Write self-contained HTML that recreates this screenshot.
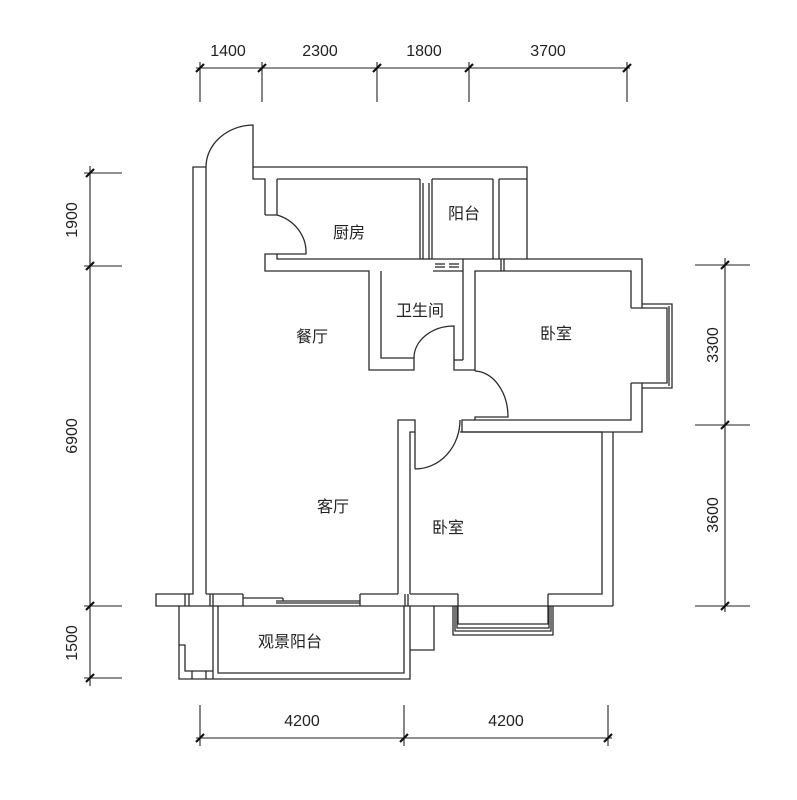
<!DOCTYPE html>
<html><head><meta charset="utf-8"><style>
html,body{margin:0;padding:0;background:#fff;}
svg{display:block;}
.w{fill:none;stroke:#2a2a2a;stroke-width:1.3;}
.d{fill:none;stroke:#222;stroke-width:1.1;}
.t{stroke:#111;stroke-width:2.2;}
.lab{font-family:"Liberation Sans","Noto Sans CJK SC",sans-serif;font-size:16px;fill:#222;text-anchor:middle;}
.num{font-family:"Liberation Sans Narrow","Liberation Sans",sans-serif;font-size:16px;fill:#222;text-anchor:middle;}
</style></head><body>
<svg width="797" height="800" viewBox="0 0 797 800" xmlns="http://www.w3.org/2000/svg">
<!-- top dims -->
<g class="d">
<line x1="196" y1="68" x2="630" y2="68"/>
<line x1="200" y1="62" x2="200" y2="102"/><line x1="262" y1="62" x2="262" y2="102"/>
<line x1="377" y1="62" x2="377" y2="102"/><line x1="469" y1="62" x2="469" y2="102"/>
<line x1="627" y1="62" x2="627" y2="102"/>
<!-- left -->
<line x1="90" y1="166" x2="90" y2="686"/>
<line x1="84" y1="173" x2="122" y2="173"/><line x1="84" y1="266" x2="122" y2="266"/>
<line x1="84" y1="606" x2="122" y2="606"/><line x1="84" y1="678" x2="122" y2="678"/>
<!-- right -->
<line x1="725" y1="258" x2="725" y2="612"/>
<line x1="695" y1="265" x2="750" y2="265"/><line x1="695" y1="425" x2="750" y2="425"/>
<line x1="695" y1="606" x2="750" y2="606"/>
<!-- bottom -->
<line x1="196" y1="738" x2="612" y2="738"/>
<line x1="200" y1="705" x2="200" y2="746"/><line x1="404" y1="705" x2="404" y2="746"/>
<line x1="608" y1="705" x2="608" y2="746"/>
</g>
<g class="t">
<line x1="196" y1="72" x2="204" y2="64"/><line x1="258" y1="72" x2="266" y2="64"/>
<line x1="373" y1="72" x2="381" y2="64"/><line x1="465" y1="72" x2="473" y2="64"/>
<line x1="623" y1="72" x2="631" y2="64"/>
<line x1="86" y1="177" x2="94" y2="169"/><line x1="86" y1="270" x2="94" y2="262"/>
<line x1="86" y1="610" x2="94" y2="602"/><line x1="86" y1="682" x2="94" y2="674"/>
<line x1="721" y1="269" x2="729" y2="261"/><line x1="721" y1="429" x2="729" y2="421"/>
<line x1="721" y1="610" x2="729" y2="602"/>
<line x1="196" y1="742" x2="204" y2="734"/><line x1="400" y1="742" x2="408" y2="734"/>
<line x1="604" y1="742" x2="612" y2="734"/>
</g>
<text class="num" x="228" y="56">1400</text>
<text class="num" x="320" y="56">2300</text>
<text class="num" x="424" y="56">1800</text>
<text class="num" x="548" y="56">3700</text>
<text class="num" x="302" y="726">4200</text>
<text class="num" x="506" y="726">4200</text>
<text class="num" transform="translate(77,220) rotate(-90)">1900</text>
<text class="num" transform="translate(77,436) rotate(-90)">6900</text>
<text class="num" transform="translate(77,643) rotate(-90)">1500</text>
<text class="num" transform="translate(718,345) rotate(-90)">3300</text>
<text class="num" transform="translate(718,515) rotate(-90)">3600</text>

<g class="w">
<!-- left outer wall -->
<polyline points="206,167 193,167 193,594 156,594 156,606 613,606"/>
<line x1="206" y1="167" x2="206" y2="594"/>
<polyline points="206,594 243,594"/>
<!-- entrance door -->
<path d="M206,167 A48,42 0 0 1 253,125 L253,179 L265,179 L265,215"/>
<!-- top wall -->
<polyline points="253,167 527,167 527,259"/>
<polyline points="277,179 420,179"/><polyline points="432,179 493,179"/>
<line x1="277" y1="179" x2="277" y2="215"/>
<!-- kitchen door -->
<path d="M265,215 L277,215 A41,39 0 0 1 306,254 L265,254 L265,271 L369,271 L369,370 L414,370 L414,358 L381,358 L381,271"/>
<polyline points="277,254 277,259 420,259"/>
<!-- kitchen / balcony divider -->
<line x1="420" y1="179" x2="420" y2="259"/><line x1="423" y1="183" x2="423" y2="259"/>
<line x1="429" y1="183" x2="429" y2="259"/><line x1="432" y1="179" x2="432" y2="259"/>
<line x1="493" y1="179" x2="493" y2="259"/><line x1="499" y1="179" x2="499" y2="259"/>
<line x1="499" y1="179" x2="527" y2="179"/>
<!-- wall between balcony & bath/bed1 -->
<polyline points="432,259 642,259 642,304"/>
<line x1="420" y1="259" x2="432" y2="259"/>
<line x1="435" y1="264" x2="445" y2="264"/><line x1="449" y1="264" x2="459" y2="264"/>
<line x1="435" y1="267" x2="445" y2="267"/><line x1="449" y1="267" x2="459" y2="267"/>
<line x1="433" y1="271" x2="463" y2="271"/>
<line x1="463" y1="259" x2="463" y2="360"/>
<line x1="501" y1="259" x2="501" y2="271"/><line x1="504" y1="259" x2="504" y2="271"/>
<polyline points="475,371 475,271 631,271 631,308"/>
<!-- bathroom door -->
<path d="M414,358 A40,32 0 0 1 454,326 L454,370 L475,370"/>
<line x1="454" y1="360" x2="463" y2="360"/>
<!-- bedroom1 door -->
<path d="M475,371 A34,46 0 0 1 508,417 L475,417 L475,420 L631,420 L631,383"/>
<polyline points="462,432 642,432 642,388"/>
<polyline points="462,432 462,420 475,420"/>
<!-- bay window right -->
<polyline points="631,308 642,308 642,304 672,304 672,388 642,388 642,383 631,383"/>
<polyline points="642,308 667,308 667,383 642,383"/>
<line x1="669" y1="306" x2="669" y2="386"/>
<!-- bedroom2 -->
<polyline points="398,594 398,420 415,420 415,432 410,432 410,594"/>
<path d="M415,469 A45,49 0 0 0 460,420"/>
<line x1="415" y1="432" x2="415" y2="469"/>
<polyline points="460,432 602,432 602,594 548,594"/>
<line x1="613" y1="432" x2="613" y2="606"/>
<line x1="410" y1="594" x2="458" y2="594"/>
<line x1="360" y1="594" x2="398" y2="594"/>
<!-- bay window bottom -->
<polyline points="458,594 458,624 548,624 548,594"/>
<polyline points="453,606 453,635 553,635 553,606"/>
<polyline points="455,606 455,631 551,631 551,606"/>
<polyline points="457,606 457,628 549,628 549,606"/>
<!-- sliding door living -->
<polyline points="243,594 243,606"/><polyline points="360,594 360,606"/>
<line x1="243" y1="598" x2="283" y2="598"/><line x1="283" y1="598" x2="283" y2="601"/>
<line x1="276" y1="601" x2="360" y2="601"/><line x1="276" y1="603" x2="360" y2="603"/>
<line x1="185" y1="594" x2="185" y2="606"/><line x1="189" y1="594" x2="189" y2="606"/>
<line x1="210" y1="594" x2="210" y2="606"/><line x1="213" y1="594" x2="213" y2="606"/>
<line x1="405" y1="594" x2="405" y2="606"/><line x1="408" y1="594" x2="408" y2="606"/>
<!-- viewing balcony -->
<polyline points="179,606 179,679 410,679 410,606"/>
<polyline points="218,606 218,673 404,673 404,606"/>
<line x1="213" y1="606" x2="213" y2="679"/>
<polyline points="213,671 185,671 185,645 179,645"/>
<line x1="192" y1="671" x2="192" y2="679"/><line x1="206" y1="671" x2="206" y2="679"/>
<polyline points="410,650 434,650 434,606"/>
</g>

<text class="lab" x="349" y="238">厨房</text>
<text class="lab" x="464" y="219">阳台</text>
<text class="lab" x="420" y="316">卫生间</text>
<text class="lab" x="312" y="342">餐厅</text>
<text class="lab" x="556" y="339">卧室</text>
<text class="lab" x="333" y="512">客厅</text>
<text class="lab" x="448" y="533">卧室</text>
<text class="lab" x="290" y="647">观景阳台</text>
</svg>
</body></html>
